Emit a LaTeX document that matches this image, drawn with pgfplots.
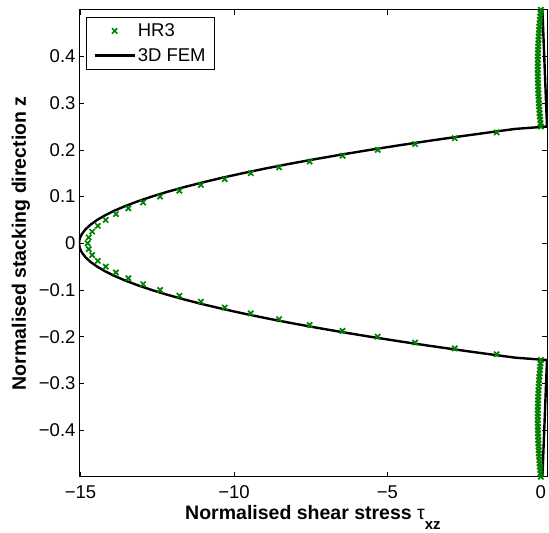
\documentclass[border=0pt]{standalone}
\usepackage{pgfplots}
\pgfplotsset{compat=1.18}
\usepackage{fontspec}
\setmainfont{Liberation Sans}
\definecolor{mgreen}{rgb}{0,0.5,0}

\begin{document}
\begin{tikzpicture}
\begin{axis}[
  name=ax,
  scale only axis, width=468pt, height=467pt,
  xmin=-15.05, xmax=0.2, ymin=-0.5, ymax=0.5,
  xtick={-15,-10,-5,0}, xticklabels={−15,−10,−5,0},
  ytick={-0.4,-0.3,-0.2,-0.1,0,0.1,0.2,0.3,0.4},
  yticklabels={−0.4,−0.3,−0.2,−0.1,0,0.1,0.2,0.3,0.4},
  tick align=inside, major tick length=5pt,
  axis line style={line width=0.8pt},
  tick style={line width=0.6pt, black},
  ticklabel style={font=\fontsize{18.5}{20}\selectfont},
  xticklabel style={yshift=-5pt},
  xlabel={\textbf{Normalised shear stress} {\mdseries τ}\raisebox{-10pt}{\fontsize{15}{15}\selectfont\bfseries xz}},
  ylabel={\textbf{Normalised stacking direction z}},
  label style={font=\fontsize{19.5}{22}\selectfont\bfseries},
  xlabel style={at={(axis description cs:0.5,0)}, anchor=base, yshift=-42.3pt},
  ylabel style={at={(axis description cs:0,0.5)}, anchor=base, yshift=53pt},
  legend style={at={(axis description cs:0.015,0.985)}, anchor=north west, draw=black, line width=0.8pt,
    font=\fontsize{18.5}{20}\selectfont, inner xsep=7pt, inner ysep=4.5pt, row sep=6pt, cells={anchor=west}},
  legend image code/.code={\draw[mark repeat=2,mark phase=2,#1] plot coordinates {(0pt,0pt) (20pt,0pt) (40pt,0pt)};},
]
\addplot[only marks, mark=x, mark size=3.7pt, color=mgreen, mark options={line width=1.7pt, solid}] table[x=x, y=z] {
x z
0 -0.5
-0.0111 -0.4929
-0.0216 -0.4857
-0.0313 -0.4786
-0.0405 -0.4714
-0.0490 -0.4643
-0.0568 -0.4571
-0.0640 -0.4500
-0.0705 -0.4429
-0.0764 -0.4357
-0.0816 -0.4286
-0.0862 -0.4214
-0.0901 -0.4143
-0.0934 -0.4071
-0.0960 -0.4000
-0.0980 -0.3929
-0.0993 -0.3857
-0.0999 -0.3786
-0.0999 -0.3714
-0.0993 -0.3643
-0.0980 -0.3571
-0.0960 -0.3500
-0.0934 -0.3429
-0.0901 -0.3357
-0.0862 -0.3286
-0.0816 -0.3214
-0.0764 -0.3143
-0.0705 -0.3071
-0.0640 -0.3000
-0.0568 -0.2929
-0.0490 -0.2857
-0.0405 -0.2786
-0.0313 -0.2714
-0.0216 -0.2643
-0.0111 -0.2571
0 -0.25
-1.440 -0.2375
-2.806 -0.225
-4.099 -0.2125
-5.317 -0.2
-6.462 -0.1875
-7.533 -0.175
-8.530 -0.1625
-9.453 -0.15
-10.302 -0.1375
-11.078 -0.125
-11.779 -0.1125
-12.407 -0.1
-12.961 -0.0875
-13.441 -0.075
-13.847 -0.0625
-14.179 -0.05
-14.438 -0.0375
-14.622 -0.025
-14.733 -0.0125
-14.77 0
-14.733 0.0125
-14.622 0.025
-14.438 0.0375
-14.179 0.05
-13.847 0.0625
-13.441 0.075
-12.961 0.0875
-12.407 0.1
-11.779 0.1125
-11.078 0.125
-10.302 0.1375
-9.453 0.15
-8.530 0.1625
-7.533 0.175
-6.462 0.1875
-5.317 0.2
-4.099 0.2125
-2.806 0.225
-1.440 0.2375
0 0.25
-0.0111 0.2571
-0.0216 0.2643
-0.0313 0.2714
-0.0405 0.2786
-0.0490 0.2857
-0.0568 0.2929
-0.0640 0.3000
-0.0705 0.3071
-0.0764 0.3143
-0.0816 0.3214
-0.0862 0.3286
-0.0901 0.3357
-0.0934 0.3429
-0.0960 0.3500
-0.0980 0.3571
-0.0993 0.3643
-0.0999 0.3714
-0.0999 0.3786
-0.0993 0.3857
-0.0980 0.3929
-0.0960 0.4000
-0.0934 0.4071
-0.0901 0.4143
-0.0862 0.4214
-0.0816 0.4286
-0.0764 0.4357
-0.0705 0.4429
-0.0640 0.4500
-0.0568 0.4571
-0.0490 0.4643
-0.0405 0.4714
-0.0313 0.4786
-0.0216 0.4857
-0.0111 0.4929
0 0.5
};
\addlegendentry{HR3}
\addplot[black, line width=2.4pt, line join=round] table[x=x, y=z] {
x z
0.05 -0.5
0.2 -0.25
-0.824 -0.245
-1.399 -0.24
-2.513 -0.23
-3.579 -0.22
-4.599 -0.21
-5.570 -0.20
-6.494 -0.19
-7.371 -0.18
-8.201 -0.17
-8.983 -0.16
-9.718 -0.15
-10.405 -0.14
-11.045 -0.13
-11.637 -0.12
-12.182 -0.11
-12.680 -0.10
-13.130 -0.09
-13.533 -0.08
-13.889 -0.07
-14.197 -0.06
-14.458 -0.05
-14.671 -0.04
-14.837 -0.03
-14.955 -0.02
-15.026 -0.01
-15.05 0
-15.026 0.01
-14.955 0.02
-14.837 0.03
-14.671 0.04
-14.458 0.05
-14.197 0.06
-13.889 0.07
-13.533 0.08
-13.130 0.09
-12.680 0.10
-12.182 0.11
-11.637 0.12
-11.045 0.13
-10.405 0.14
-9.718 0.15
-8.983 0.16
-8.201 0.17
-7.371 0.18
-6.494 0.19
-5.570 0.20
-4.599 0.21
-3.579 0.22
-2.513 0.23
-1.399 0.24
-0.824 0.245
0.2 0.25
0.05 0.5
};
\addlegendentry{3D FEM}
\end{axis}
\pgfresetboundingbox
\path ([xshift=-79pt,yshift=-56pt]ax.south west) rectangle ([xshift=2pt,yshift=9.8pt]ax.north east);
\end{tikzpicture}
\end{document}
